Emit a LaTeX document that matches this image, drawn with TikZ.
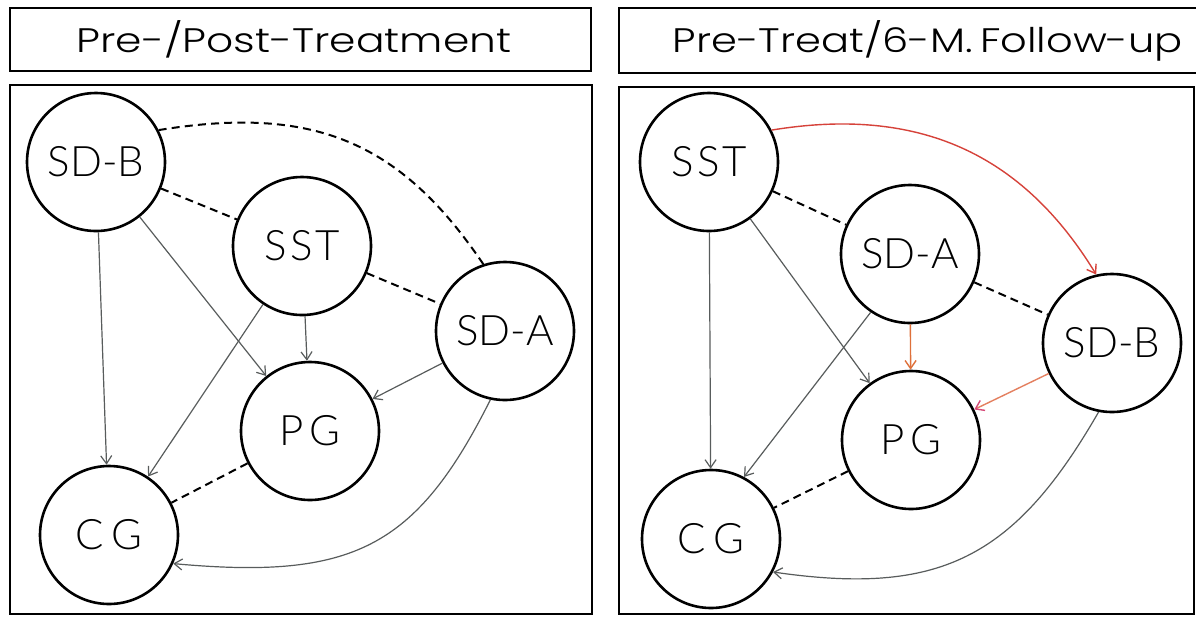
\documentclass[tikz,border=0pt]{standalone}
\usepackage{fontspec}
\setmainfont{Lato Light}
\newfontfamily\titlefont{Poppins Light}
\usetikzlibrary{arrows.meta}

\definecolor{linkgray}{RGB}{88,92,92}
\definecolor{hotred}{RGB}{214,66,58}
\definecolor{warmorange}{RGB}{222,112,58}
\definecolor{peach}{RGB}{228,128,96}
\definecolor{rosepink}{RGB}{214,74,120}

\begin{document}
\begin{tikzpicture}[x=0.5pt,y=-0.5pt,
  frame/.style={line width=1.3pt},
  heading/.style={anchor=base, inner sep=0pt, font=\titlefont\fontsize{17}{18}\selectfont},
  group/.style={circle, draw, line width=1.3pt, minimum size=69pt, inner sep=0pt,
                font=\fontsize{21}{22}\selectfont},
  effect/.style={draw=linkgray, line width=0.6pt, -{Straight Barb[length=4pt,width=5.5pt]}},
  link/.style={line width=1pt, dash pattern=on 4pt off 2.6pt},
  hot/.style={draw=hotred, line width=0.7pt, -{Straight Barb[length=4pt,width=5.5pt]}},
  warm/.style={draw=warmorange, line width=0.7pt, -{Straight Barb[length=4pt,width=5.5pt]}},
  rose/.style={draw=peach, line width=0.7pt, -{Straight Barb[length=4pt,width=5.5pt,color=rosepink]}},
]
\useasboundingbox (0,0) rectangle (1196,617);
\fill[white] (0,0) rectangle (1196,617);

% ---------------- left panel: pre/post treatment ----------------
\draw[frame] (10,8) rectangle (591,71);
\node[heading] (L-title) at (294,52) {\resizebox{217.5pt}{\height}{Pre-/Post-Treatment}};
\draw[frame] (10,85) rectangle (592,614);

\node[group] (L-sdb) at (96,162) {SD-B};
\node[group] (L-sst) at (302,246) {S\kern2pt S\kern1pt T};
\node[group] (L-sda) at (505,331) {SD-A};
\node[group] (L-pg)  at (310,431) {P\kern3pt G};
\node[group] (L-cg)  at (109,535) {C\kern4pt G};

\draw[link] (L-sdb) -- (L-sst);
\draw[link] (L-sst) -- (L-sda);
\draw[link] (L-pg) -- (L-cg);
\draw[link] (L-sdb.27) .. controls (313,105) and (400,141) .. (L-sda.108);

\draw[effect] (L-sdb) -- (L-cg);
\draw[effect] (L-sdb) -- (L-pg);
\draw[effect] (L-sst) -- (L-cg);
\draw[effect] (L-sst) -- (L-pg);
\draw[effect] (L-sda) -- (L-pg);
\draw[effect] (L-sda.258) .. controls (416,548) and (353,580) .. (L-cg.-24);

% ---------------- right panel: pre-treatment / 6-month follow-up ----------------
\draw[frame] (619,8) rectangle (1205,73);
\node[heading] (R-title) at (928,52) {\resizebox{255pt}{\height}{Pre-Treat/6-M.\,Follow-up}};
\draw[frame] (619,87) rectangle (1194,614);

\node[group] (R-sst) at (709,162)  {S\kern2pt S\kern1pt T};
\node[group] (R-sda) at (910,254)  {SD-A};
\node[group] (R-sdb) at (1112,343) {SD-B};
\node[group] (R-pg)  at (911,440)  {P\kern3pt G};
\node[group] (R-cg)  at (711,539)  {C\kern4pt G};

\draw[link] (R-sst) -- (R-sda);
\draw[link] (R-sda) -- (R-sdb);
\draw[link] (R-pg) -- (R-cg);

\draw[effect] (R-sst) -- (R-cg);
\draw[effect] (R-sst) -- (R-pg);
\draw[effect] (R-sda.-124) -- (R-cg.62);
\draw[effect] (R-sdb.259) .. controls (1014,559) and (939,596) .. (R-cg.-28);

\draw[hot] (R-sst.27) .. controls (918,106) and (1022,153) .. (R-sdb.103);
\draw[warm] (R-sda) -- (R-pg);
\draw[rose] (R-sdb) -- (R-pg);
\end{tikzpicture}
\end{document}
